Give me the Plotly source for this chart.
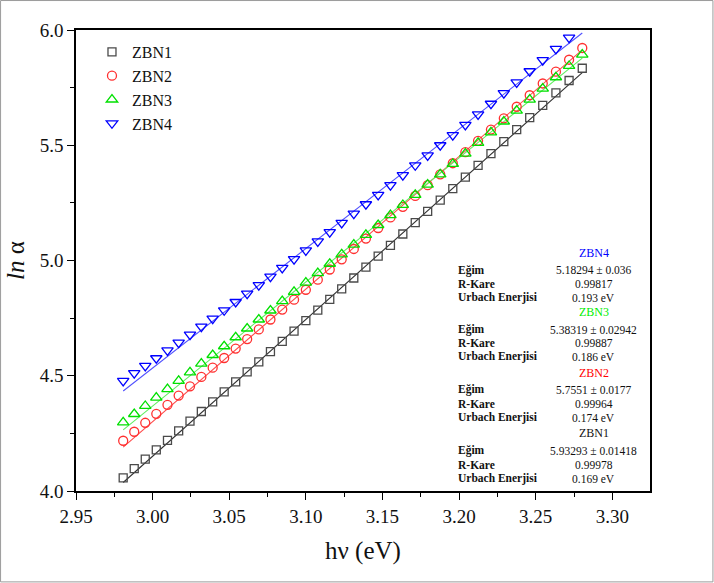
import plotly.graph_objects as go

# ---------------- data ----------------
hv = [2.9808, 2.9880, 2.9952, 3.0024, 3.0097, 3.0170, 3.0244, 3.0318, 3.0392, 3.0467,
      3.0542, 3.0617, 3.0693, 3.0769, 3.0846, 3.0923, 3.1000, 3.1078, 3.1156, 3.1234,
      3.1313, 3.1392, 3.1472, 3.1552, 3.1633, 3.1714, 3.1795, 3.1877, 3.1959, 3.2041,
      3.2124, 3.2208, 3.2292, 3.2376, 3.2461, 3.2546, 3.2632, 3.2718, 3.2804]

zbn1 = [4.057, 4.097, 4.138, 4.178, 4.220, 4.261, 4.303, 4.345, 4.387, 4.430,
        4.473, 4.517, 4.560, 4.605, 4.649, 4.694, 4.739, 4.785, 4.831, 4.877,
        4.924, 4.971, 5.019, 5.066, 5.115, 5.164, 5.213, 5.262, 5.312, 5.362,
        5.413, 5.464, 5.516, 5.568, 5.620, 5.673, 5.727, 5.781, 5.834]
zbn2 = [4.218, 4.257, 4.296, 4.335, 4.374, 4.414, 4.454, 4.495, 4.535, 4.577,
        4.618, 4.659, 4.701, 4.744, 4.787, 4.830, 4.873, 4.917, 4.961, 5.005,
        5.050, 5.095, 5.141, 5.187, 5.233, 5.280, 5.327, 5.374, 5.422, 5.470,
        5.519, 5.568, 5.617, 5.667, 5.717, 5.768, 5.819, 5.871, 5.922]
zbn3 = [4.298, 4.334, 4.369, 4.405, 4.442, 4.478, 4.515, 4.553, 4.590, 4.628,
        4.667, 4.705, 4.744, 4.783, 4.824, 4.864, 4.904, 4.945, 4.986, 5.027,
        5.069, 5.111, 5.154, 5.197, 5.241, 5.285, 5.329, 5.374, 5.419, 5.464,
        5.510, 5.556, 5.603, 5.650, 5.698, 5.746, 5.795, 5.844, 5.893]
zbn4 = [4.478, 4.511, 4.543, 4.576, 4.610, 4.644, 4.678, 4.713, 4.748, 4.784,
        4.820, 4.856, 4.893, 4.930, 4.968, 5.006, 5.044, 5.083, 5.123, 5.163,
        5.203, 5.244, 5.285, 5.327, 5.370, 5.413, 5.456, 5.500, 5.544, 5.588,
        5.634, 5.680, 5.726, 5.773, 5.821, 5.869, 5.918, 5.967]

fit_x = [2.9808, 3.2804]
fit1 = [4.037, 5.815]
fit2 = [4.190, 5.914]
fit3 = [4.265, 5.878]
fit4 = [4.434, 5.987]

names = ["ZBN1", "ZBN2", "ZBN3", "ZBN4"]
slopes = ["5.93293 ± 0.01418", "5.7551 ± 0.0177", "5.38319 ± 0.02942", "5.18294 ± 0.036"]
r2 = ["0.99978", "0.99964", "0.99887", "0.99817"]
urbach = ["0.169 eV", "0.174 eV", "0.186 eV", "0.193 eV"]

x_ticks = [2.95, 3.00, 3.05, 3.10, 3.15, 3.20, 3.25, 3.30]
y_ticks = [4.0, 4.5, 5.0, 5.5, 6.0]

# ---------------- style ----------------
W, H = 714, 583
L, R, T, B = 76, 63.5, 30, 91.5
PW, PH = W - L - R, H - T - B
FONT = "Liberation Serif, Times New Roman, serif"

def px(x):
    return (x - L) / PW

def py(y):
    return 1 - (y - T) / PH

marker_col = ["#4a4a4a", "#ff3030", "#00e000", "#0000ff"]
line_col = ["#303030", "#ff4a4a", "#60ee60", "#5050ff"]
symbols = ["square-open", "circle-open", "triangle-up-open", "triangle-down-open"]
sizes = [8, 9, 10, 10]
series = [zbn1, zbn2, zbn3, zbn4]
fits = [fit1, fit2, fit3, fit4]

fig = go.Figure()
for i in range(4):
    fig.add_trace(go.Scatter(x=fit_x, y=fits[i], mode="lines",
                             line=dict(color=line_col[i], width=1.1),
                             showlegend=False, hoverinfo="skip"))
for i in range(4):
    fig.add_trace(go.Scatter(x=hv[:len(series[i])], y=series[i], mode="markers", name=names[i],
                             marker=dict(symbol=symbols[i], size=sizes[i], color=marker_col[i],
                                         line=dict(width=1.3, color=marker_col[i]))))

# ---------------- table annotations ----------------
ann = []
rows_y = {3: (253, 270.5, 284, 298), 2: (312, 330, 343.5, 357), 1: (373, 390, 404, 418), 0: (433, 451, 465, 479)}
title_col = ["#111111", "#ff0000", "#00ee00", "#0000ff"]
for i in range(4):
    yt, y1, y2, y3 = rows_y[i]
    ann.append(dict(text=names[i], x=px(594), y=py(yt), xref="paper", yref="paper",
                    xanchor="center", yanchor="middle", showarrow=False,
                    font=dict(family=FONT, size=12, color=title_col[i])))
    for lab, val, yy in (("Eğim", slopes[i], y1), ("R-Kare", r2[i], y2), ("Urbach Enerjisi", urbach[i], y3)):
        ann.append(dict(text="<b>" + lab + "</b>", x=px(456), y=py(yy), xref="paper", yref="paper",
                        xanchor="left", yanchor="middle", showarrow=False,
                        font=dict(family=FONT, size=11.5, color="#111111")))
        ann.append(dict(text=val, x=px(594), y=py(yy), xref="paper", yref="paper",
                        xanchor="center", yanchor="middle", showarrow=False,
                        font=dict(family=FONT, size=11.5, color="#111111")))

axis_common = dict(showgrid=False, zeroline=False, showline=True, linecolor="black", linewidth=1.6,
                   mirror=True, ticks="outside", ticklen=7, tickwidth=1.4, tickcolor="black",
                   tickfont=dict(family=FONT, size=19, color="#111111"))

fig.update_layout(
    width=W, height=H,
    margin=dict(l=L, r=R, t=T, b=B, pad=0),
    paper_bgcolor="white", plot_bgcolor="white",
    xaxis=dict(range=[2.95, 3.3246], tickvals=x_ticks, ticktext=[f"{v:.2f}" for v in x_ticks],
               minor=dict(dtick=0.025, tick0=2.95, ticks="outside", ticklen=4, tickwidth=1.2, tickcolor="black"),
               title=dict(text="hν (eV)", font=dict(family=FONT, size=25, color="#111111"), standoff=16),
               **axis_common),
    yaxis=dict(range=[4.0, 6.0], tickvals=y_ticks, ticktext=[f"{v:.1f}" for v in y_ticks],
               minor=dict(dtick=0.25, tick0=4.0, ticks="outside", ticklen=4, tickwidth=1.2, tickcolor="black"),
               title=dict(text="<i>ln</i> α", font=dict(family=FONT, size=25, color="#111111"), standoff=8),
               **axis_common),
    legend=dict(x=px(92), y=py(35), xanchor="left", yanchor="top", bgcolor="rgba(0,0,0,0)",
                font=dict(family=FONT, size=16, color="#111111"), tracegroupgap=0),
    annotations=ann,
    shapes=[dict(type="rect", xref="paper", yref="paper",
                 x0=px(0.5), x1=px(W - 0.5), y0=py(H - 0.5), y1=py(0.5),
                 line=dict(color="#9a9a9a", width=1))],
)

fig.write_html("out.html")
